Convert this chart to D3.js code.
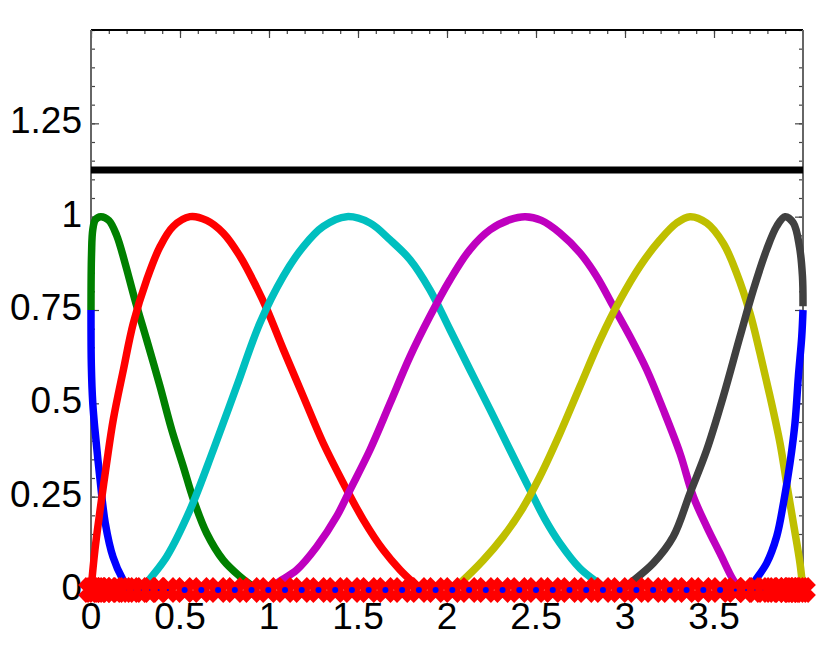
<html>
  <head>
    <meta charset="utf-8">
    <title>Basis functions</title>
    <script src="https://d3js.org/d3.v7.min.js"></script>
    <style>
      body { margin: 0; background: #fff; }
      text { font-family: "Liberation Sans", Arial, sans-serif; }
    </style>
  </head>
  <body>
    <svg id="chart" width="831" height="651"></svg>
    <script>

    // tick labels
    var xTicks = [0, 0.5, 1, 1.5, 2, 2.5, 3, 3.5];
    var xTickLabels = ["0", "0.5", "1", "1.5", "2", "2.5", "3", "3.5"];
    var yTicks = [0, 0.25, 0.5, 0.75, 1, 1.25];
    var yTickLabels = ["0", "0.25", "0.5", "0.75", "1", "1.25"];

    // horizontal black line
    var levelY = 1.125;

    // curves, [x, y]
    var blueLeft = [[0,0.75],[0.002,0.6],[0.01,0.5],[0.022,0.43],[0.05,0.3],[0.08,0.18],[0.124,0.088],[0.18,0.027],[0.22,0]];
    var green = [[0,0.75],[0.003,0.9],[0.01,0.965],[0.025,0.992],[0.055,1.0],[0.1,0.99],[0.144,0.95],[0.191,0.876],[0.247,0.777],[0.313,0.67],[0.388,0.545],[0.453,0.43],[0.519,0.33],[0.575,0.243],[0.65,0.152],[0.743,0.08],[0.837,0.036],[0.893,0.015],[0.94,0]];
    var red = [[0,0],[0.022,0.107],[0.051,0.214],[0.088,0.34],[0.125,0.456],[0.182,0.59],[0.238,0.715],[0.313,0.831],[0.388,0.92],[0.462,0.974],[0.556,1.0],[0.65,0.99],[0.743,0.956],[0.837,0.894],[0.931,0.81],[0.99,0.75],[1.08,0.645],[1.193,0.518],[1.305,0.393],[1.418,0.286],[1.53,0.188],[1.642,0.107],[1.736,0.054],[1.81,0.02],[1.86,0]];
    var cyan = [[0.29,0],[0.313,0.018],[0.425,0.089],[0.556,0.214],[0.687,0.375],[0.818,0.545],[0.949,0.715],[1.08,0.84],[1.193,0.92],[1.305,0.974],[1.436,1.0],[1.567,0.983],[1.68,0.938],[1.792,0.885],[1.904,0.804],[2.017,0.697],[2.129,0.59],[2.242,0.483],[2.354,0.375],[2.466,0.268],[2.55,0.19],[2.635,0.125],[2.747,0.058],[2.86,0.015],[2.9,0]];
    var magenta = [[1.0,0],[1.043,0.018],[1.156,0.054],[1.268,0.116],[1.38,0.197],[1.455,0.268],[1.567,0.375],[1.68,0.5],[1.792,0.625],[1.904,0.733],[2.017,0.831],[2.129,0.912],[2.242,0.965],[2.354,0.992],[2.44,1.0],[2.53,0.99],[2.635,0.956],[2.747,0.903],[2.841,0.84],[2.934,0.76],[3.028,0.679],[3.122,0.59],[3.215,0.483],[3.309,0.366],[3.384,0.25],[3.459,0.17],[3.534,0.098],[3.608,0.027],[3.65,0]];
    var yellow = [[2.03,0],[2.073,0.018],[2.204,0.08],[2.316,0.143],[2.42,0.215],[2.522,0.304],[2.635,0.42],[2.747,0.545],[2.86,0.67],[2.972,0.777],[3.084,0.867],[3.197,0.938],[3.29,0.983],[3.365,1.0],[3.459,0.983],[3.552,0.929],[3.627,0.849],[3.702,0.742],[3.758,0.635],[3.815,0.518],[3.871,0.393],[3.908,0.286],[3.946,0.179],[3.983,0.072],[4.0,0]];
    var gray = [[2.98,0],[3.028,0.018],[3.159,0.072],[3.271,0.143],[3.365,0.259],[3.459,0.375],[3.552,0.518],[3.646,0.679],[3.721,0.804],[3.796,0.912],[3.852,0.974],[3.899,1.0],[3.946,0.983],[3.98,0.92],[3.997,0.84],[4.0,0.76]];
    var blueRight = [[3.7,0],[3.721,0.018],[3.796,0.072],[3.852,0.143],[3.89,0.232],[3.927,0.34],[3.955,0.447],[3.974,0.572],[3.993,0.679],[4.0,0.75]];

    // x positions of the points on y = 0
    var nodeX = [0,0.012,0.028,0.048,0.072,0.1,0.13,0.163,0.2,0.24,0.283,0.33,0.38,0.432,0.526,
      0.62,0.714,0.808,0.902,0.996,1.09,1.184,1.278,1.372,1.466,1.56,1.654,1.748,1.842,1.936,
      2.03,2.124,2.218,2.312,2.406,2.5,2.594,2.688,2.782,2.876,2.97,3.064,3.158,3.252,3.346,
      3.44,3.534,3.62,3.68,3.73,3.775,3.815,3.85,3.88,3.907,3.93,3.95,3.968,3.984,4.0];

    var series = [
      {data: blueLeft, color: "#0000ff"},
      {data: green, color: "#008000"},
      {data: red, color: "#ff0000"},
      {data: cyan, color: "#00bfbf"},
      {data: magenta, color: "#bf00bf"},
      {data: yellow, color: "#bfbf00"},
      {data: gray, color: "#404040"},
      {data: blueRight, color: "#0000ff"}
    ];

    var plotLeft = 91, plotRight = 803, plotTop = 30, plotBottom = 590;

    var sx = d3.scaleLinear().domain([0, 4]).range([plotLeft, plotRight]);
    var sy = d3.scaleLinear().domain([0, 1.5]).range([plotBottom, plotTop]);

    var svg = d3.select("#chart");

    svg.append("rect").attr("width", 831).attr("height", 651).attr("fill", "#fff");

    // inward ticks on all four sides
    var minorX = d3.range(0, 40).map(function(i){ return i / 10; });
    var minorY = d3.range(0, 31).map(function(i){ return i / 20; });
    var axisG = svg.append("g");
    axisG.append("g").attr("transform", "translate(0," + plotTop + ")")
      .call(d3.axisBottom(sx).tickValues(minorX).tickSize(4).tickFormat(""));
    axisG.append("g").attr("transform", "translate(0," + plotTop + ")")
      .call(d3.axisBottom(sx).tickValues(xTicks).tickSize(8).tickFormat(""));
    axisG.append("g").attr("transform", "translate(" + plotLeft + ",0)")
      .call(d3.axisRight(sy).tickValues(minorY).tickSize(4).tickFormat(""));
    axisG.append("g").attr("transform", "translate(" + plotLeft + ",0)")
      .call(d3.axisRight(sy).tickValues(yTicks).tickSize(8).tickFormat(""));
    axisG.append("g").attr("transform", "translate(" + plotRight + ",0)")
      .call(d3.axisLeft(sy).tickValues(minorY).tickSize(4).tickFormat(""));
    axisG.append("g").attr("transform", "translate(" + plotRight + ",0)")
      .call(d3.axisLeft(sy).tickValues(yTicks).tickSize(8).tickFormat(""));
    axisG.selectAll(".domain").remove();
    axisG.selectAll("line").attr("stroke", "#444").attr("stroke-width", 1.2);

    // box
    svg.append("line").attr("x1", plotLeft).attr("x2", plotRight).attr("y1", plotTop).attr("y2", plotTop)
      .attr("stroke", "#000").attr("stroke-width", 2);
    svg.append("line").attr("x1", plotLeft).attr("x2", plotLeft).attr("y1", plotTop).attr("y2", plotBottom)
      .attr("stroke", "#666").attr("stroke-width", 2);
    svg.append("line").attr("x1", plotRight).attr("x2", plotRight).attr("y1", plotTop).attr("y2", plotBottom)
      .attr("stroke", "#666").attr("stroke-width", 2);

    // tick labels
    svg.append("g").selectAll("text")
      .data(yTicks)
      .enter()
      .append("text")
        .attr("x", plotLeft - 9)
        .attr("y", function(d){ return sy(d) + 10; })
        .attr("text-anchor", "end")
        .attr("font-size", 37)
        .text(function(d, i){ return yTickLabels[i]; });

    svg.append("g").selectAll("text")
      .data(xTicks)
      .enter()
      .append("text")
        .attr("x", function(d){ return sx(d); })
        .attr("y", 629)
        .attr("text-anchor", "middle")
        .attr("font-size", 37)
        .text(function(d, i){ return xTickLabels[i]; });

    // black level line
    svg.append("line")
      .attr("x1", sx(0)).attr("x2", sx(4))
      .attr("y1", sy(levelY)).attr("y2", sy(levelY))
      .attr("stroke", "#000").attr("stroke-width", 7);

    var line = d3.line()
      .x(function(d){ return sx(d[0]); })
      .y(function(d){ return sy(d[1]); })
      .curve(d3.curveCatmullRom.alpha(0.5));

    svg.append("g").selectAll("path")
      .data(series)
      .enter()
      .append("path")
        .attr("d", function(d){ return line(d.data); })
        .attr("fill", "none")
        .attr("stroke", function(d){ return d.color; })
        .attr("stroke-width", 7.5)
        .attr("stroke-linejoin", "round");

    // red crosses at the nodes
    var h = 9;
    svg.append("g").selectAll("path")
      .data(nodeX)
      .enter()
      .append("path")
        .attr("transform", function(d){ return "translate(" + sx(d) + "," + sy(0) + ")"; })
        .attr("d", "M" + (-h) + "," + (-h) + "L" + h + "," + h + "M" + (-h) + "," + h + "L" + h + "," + (-h))
        .attr("fill", "none")
        .attr("stroke", "#ff0000")
        .attr("stroke-width", 11);

    // small blue dots, only visible where nodes are spread out
    svg.append("g").selectAll("circle")
      .data(nodeX)
      .enter()
      .append("circle")
        .attr("cx", function(d){ return sx(d); })
        .attr("cy", sy(0))
        .attr("r", function(d, i){
          var a = i > 0 ? d - nodeX[i-1] : 0;
          var b = i < nodeX.length - 1 ? nodeX[i+1] - d : 0;
          var gap = Math.min(a || b, b || a) * (sx(1) - sx(0));
          return Math.max(0, Math.min(3, (gap - 6) / 3));
        })
        .attr("fill", "#0000ff");

    </script>
  </body>
</html>
